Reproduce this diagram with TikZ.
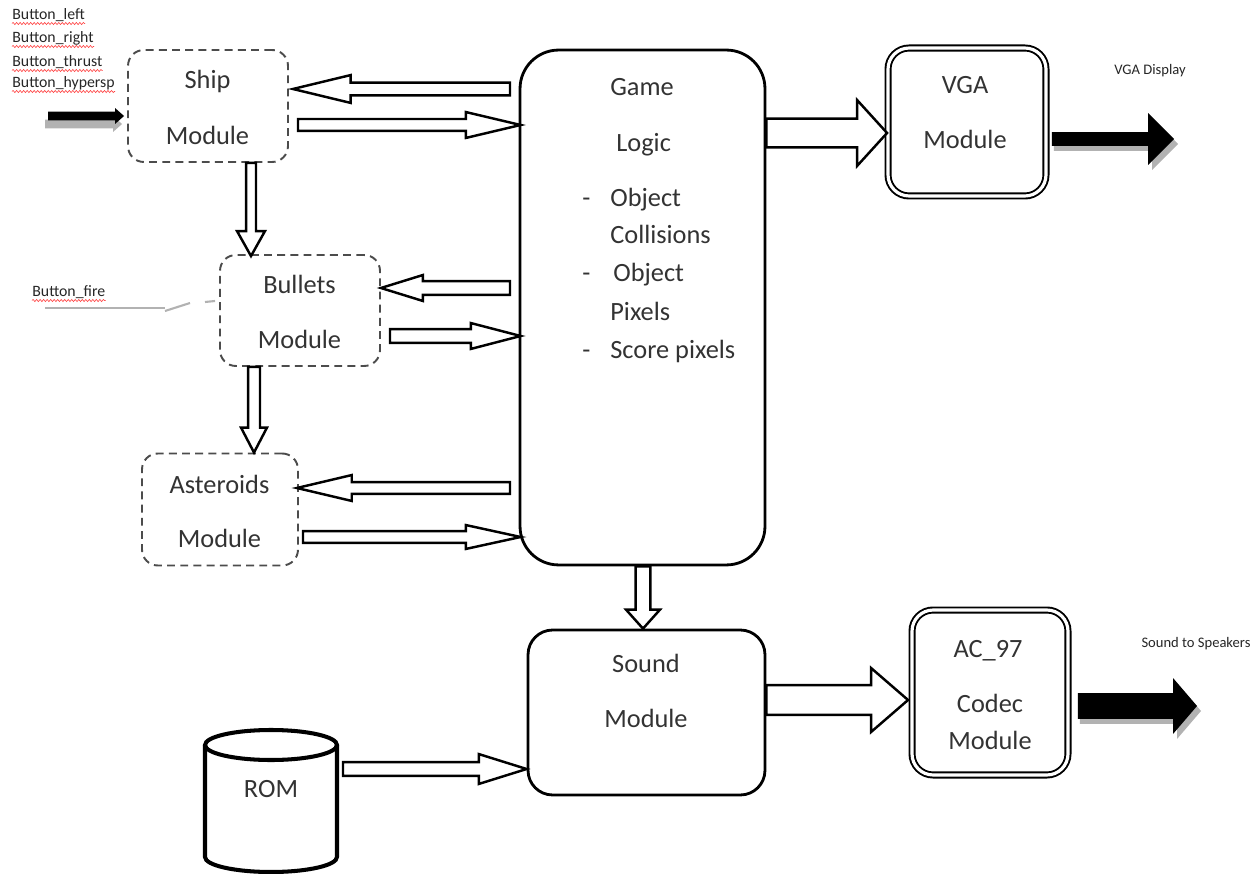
\documentclass[tikz,border=0pt]{standalone}
\usepackage{fontspec}
\setmainfont{Carlito}
\usetikzlibrary{calc,decorations.pathmorphing}

% horizontal block arrow: style, tail, tip, shaft half width, head half width, head length (px)
\newcommand\hblock[6]{%
  \path[#1] let \p1=(#2), \p2=(#3), \n1={ifthenelse(\x2>\x1,1,-1)} in
    (\x1,{\y2-#4*0.5669pt}) -- ({\x2-\n1*#6*0.5669pt},{\y2-#4*0.5669pt})
    -- ({\x2-\n1*#6*0.5669pt},{\y2-#5*0.5669pt}) -- (\x2,\y2)
    -- ({\x2-\n1*#6*0.5669pt},{\y2+#5*0.5669pt}) -- ({\x2-\n1*#6*0.5669pt},{\y2+#4*0.5669pt})
    -- (\x1,{\y2+#4*0.5669pt}) -- cycle;}
% vertical block arrow, same arguments
\newcommand\vblock[6]{%
  \path[#1] let \p1=(#2), \p2=(#3), \n1={ifthenelse(\y2>\y1,1,-1)} in
    ({\x2-#4*0.5669pt},\y1) -- ({\x2-#4*0.5669pt},{\y2-\n1*#6*0.5669pt})
    -- ({\x2-#5*0.5669pt},{\y2-\n1*#6*0.5669pt}) -- (\x2,\y2)
    -- ({\x2+#5*0.5669pt},{\y2-\n1*#6*0.5669pt}) -- ({\x2+#4*0.5669pt},{\y2-\n1*#6*0.5669pt})
    -- ({\x2+#4*0.5669pt},\y1) -- cycle;}

\tikzset{
  lbl/.style={font=\fontsize{15}{18}\selectfont, text=black!80, inner sep=0pt},
  sm/.style={font=\fontsize{9}{11}\selectfont, text=black!85, inner sep=0pt},
  smr/.style={font=\fontsize{8.3}{10}\selectfont, text=black!85, inner sep=0pt},
  dbox/.style={draw=black!70, dash pattern=on 4.5pt off 3pt, line width=1.1pt,
               rounded corners=9pt, fill=white, inner sep=0pt},
  rbox/.style={draw, line width=1.6pt, fill=white, inner sep=0pt},
  dblbox/.style={draw, double, double distance=1.8pt, line width=1.1pt,
                 rounded corners=12pt, inner sep=0pt},
  hollow/.style={draw=black, line width=1.4pt, fill=white, line join=miter},
  blackarrow/.style={fill=black},
  shadowarrow/.style={fill=black!30},
  wavy/.style={draw=red!75, line width=0.35pt,
               decorate, decoration={snake, segment length=2pt, amplitude=0.6pt}},
}

\begin{document}
\begin{tikzpicture}[x=0.02cm, y=-0.02cm]
\useasboundingbox (0,0) rectangle (1257,874);

% input button labels
\node[sm, anchor=base west] (bl) at (12,20) {Button\_left};
\node[sm, anchor=base west] (br) at (12,43) {Button\_right};
\node[sm, anchor=base west] (bt) at (12,67) {Button\_thrust};
\node[sm, anchor=base west] (bh) at (12,88) {Button\_hypersp};
\node[sm, anchor=base west] (bf) at (32,297) {Button\_fire};
\foreach \n in {bl,br,bt,bh,bf}
  \path[wavy] ([yshift=-2pt]\n.base west) -- ([yshift=-2pt]\n.base east);

% module boxes
\node[dbox, minimum width=3.2cm, minimum height=2.24cm] (ship) at (208,106) {};
\node[dbox, minimum width=3.2cm, minimum height=2.22cm] (bullets) at (300,310.5) {};
\node[dbox, minimum width=3.12cm, minimum height=2.24cm] (asteroids) at (220,509.5) {};
\node[rbox, rounded corners=22pt, minimum width=4.9cm, minimum height=10.3cm] (game) at (642.5,307.5) {};
\node[dblbox, minimum width=3.16cm, minimum height=2.96cm] (vga) at (967,122) {};
\node[rbox, rounded corners=14pt, minimum width=4.74cm, minimum height=3.3cm] (sound) at (646.5,712.5) {};
\node[dblbox, minimum width=3.12cm, minimum height=3.3cm] (ac) at (990,692.5) {};

% box texts
\node[lbl, anchor=base] (t1) at (207.5,89) {Ship};
\node[lbl, anchor=base] (t2) at (207.5,145) {Module};
\node[lbl, anchor=base] (t3) at (299.5,294) {Bullets};
\node[lbl, anchor=base] (t4) at (299.5,349) {Module};
\node[lbl, anchor=base] (t5) at (219.5,494) {Asteroids};
\node[lbl, anchor=base] (t6) at (219.5,547) {Module};
\node[lbl, anchor=base west] (g1) at (610,96) {Game};
\node[lbl, anchor=base west] (g2) at (616,152) {Logic};
\node[lbl, anchor=base west] (d1) at (582,207) {-};
\node[lbl, anchor=base west] (g3) at (610,207) {Object};
\node[lbl, anchor=base west] (g4) at (610,244) {Collisions};
\node[lbl, anchor=base west] (d2) at (582,282) {-};
\node[lbl, anchor=base west] (g5) at (613,282) {Object};
\node[lbl, anchor=base west] (g6) at (610,321) {Pixels};
\node[lbl, anchor=base west] (d3) at (582,359) {-};
\node[lbl, anchor=base west] (g7) at (610,359) {Score pixels};
\node[lbl, anchor=base] (v1) at (965,94) {VGA};
\node[lbl, anchor=base] (v2) at (965,149) {Module};
\node[lbl, anchor=base] (s1) at (646,672) {Sound};
\node[lbl, anchor=base] (s2) at (646,727) {Module};
\node[lbl, anchor=base] (a1) at (988,657) {AC\_97};
\node[lbl, anchor=base] (a2) at (990,712) {Codec};
\node[lbl, anchor=base] (a3) at (990,749) {Module};

% output labels
\node[smr, anchor=base] (vd-l) at (1150,75) {VGA Display};
\node[smr, anchor=base] (sp-l) at (1196,647) {Sound to Speakers};

% ROM cylinder
\draw[line width=2.3pt, fill=white] (205,745) -- (205,857)
  arc[start angle=180, end angle=360, x radius=1.32cm, y radius=0.3cm] -- (337,745);
\draw[line width=2.3pt] (271,745) ellipse[x radius=1.32cm, y radius=0.3cm];
\node[lbl, anchor=base] (rom) at (271,797) {ROM};
\coordinate (romout) at (343,769);

% ship, bullets and asteroids exchanges with the game logic
\coordinate (gs) at (510,89);
\coordinate (sg) at (298,125);
\coordinate (gb) at (510,288);
\coordinate (bg) at (390,336);
\coordinate (ga) at (510,488);
\coordinate (ag) at (303,537);
\hblock{hollow}{gs}{$(ship.east |- gs)+(4,0)$}{6.5}{14}{58}
\hblock{hollow}{sg}{$(game.west |- sg)+(2,0)$}{6}{13}{55}
\hblock{hollow}{gb}{bullets.east |- gb}{7}{13}{42}
\hblock{hollow}{bg}{$(game.west |- bg)+(2,0)$}{7}{13}{50}
\hblock{hollow}{ga}{$(asteroids.east |- ga)+(-2,0)$}{6}{13}{55}
\hblock{hollow}{ag}{$(game.west |- ag)+(2,0)$}{6}{12}{55}

% module chain
\vblock{hollow}{251,0 |- ship.south}{$(251,0 |- bullets.north)+(0,2)$}{5}{14}{25}
\vblock{hollow}{254,0 |- bullets.south}{254,0 |- asteroids.north}{6}{13}{25}

% outputs of game logic and sound
\hblock{hollow}{game.east |- 0,133}{vga.west |- 0,133}{14.5}{33}{30}
\vblock{hollow}{643,0 |- game.south}{643,0 |- sound.north}{7.5}{17}{19}
\hblock{hollow}{sound.east |- 0,700}{$(ac.west |- 0,700)+(-3,0)$}{15}{32}{37}
\hblock{hollow}{romout}{sound.west |- romout}{7}{15}{48}

% black signal arrows with soft shadows
\coordinate (vd) at (1174,139);
\coordinate (sp) at (1197,706);
\coordinate (inp) at (48,116);
\hblock{shadowarrow}{$(vga.east |- vd)+(7,5)$}{$(vd)+(4,5)$}{7}{26}{26}
\hblock{blackarrow}{$(vga.east |- vd)+(5,0)$}{vd}{7}{26}{26}
\hblock{shadowarrow}{$(ac.east |- sp)+(11,5)$}{$(sp)+(4,5)$}{13}{28}{24}
\hblock{blackarrow}{$(ac.east |- sp)+(9,0)$}{sp}{13}{28}{24}
\hblock{shadowarrow}{$(inp)+(-3,5)$}{$(ship.west |- inp)+(-5,8)$}{4.5}{8}{9}
\hblock{blackarrow}{inp}{$(ship.west |- inp)+(-3,0)$}{4.5}{8}{9}

% fire button input
\coordinate (fire) at (45,308);
\draw[black!30, line width=0.6pt] (fire) -- (165,308);
\draw[black!30, line width=1.2pt] (165,311) -- (190,303);
\draw[black!30, line width=1.2pt] (205,302) -- ($(bullets.west |- 0,301)+(-4,0)$);
\end{tikzpicture}
\end{document}
